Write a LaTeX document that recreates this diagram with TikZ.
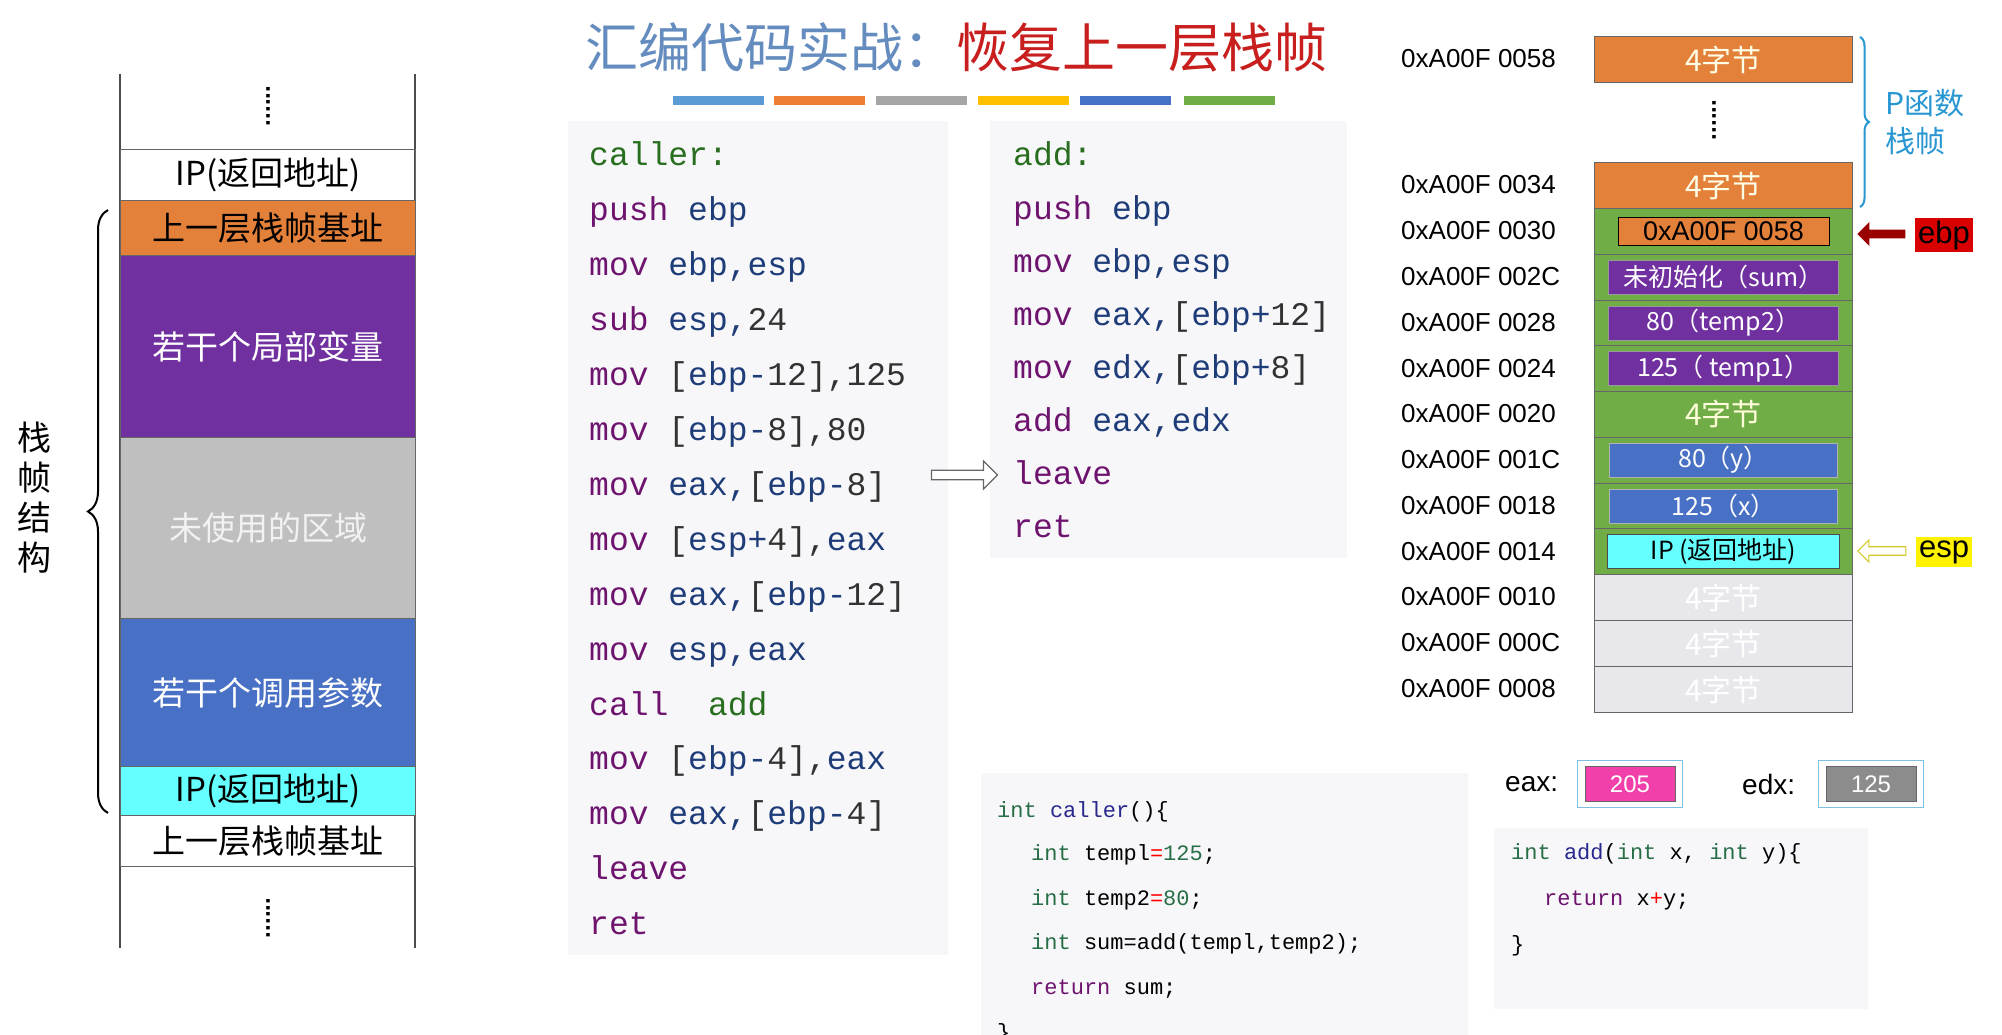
\documentclass[tikz,border=0pt]{standalone}
\usepackage{fontspec}
\setmainfont{Liberation Sans}
\setmonofont{Liberation Mono}
\newfontfamily\cjk{Noto Sans CJK SC}
\usetikzlibrary{arrows.meta,decorations.pathreplacing,shapes.arrows}
\definecolor{cOrange}{RGB}{227,128,58}
\definecolor{cPurple}{RGB}{112,48,160}
\definecolor{cGray}{RGB}{191,191,191}
\definecolor{cBlue}{RGB}{72,112,196}
\definecolor{cCyan}{RGB}{102,255,255}
\definecolor{cGreen}{RGB}{112,173,71}
\definecolor{cLight}{RGB}{232,232,236}
\definecolor{cPanel}{RGB}{247,247,250}
\definecolor{kMn}{RGB}{110,20,110}
\definecolor{kReg}{RGB}{30,60,120}
\definecolor{kLab}{RGB}{40,110,30}
\definecolor{kNum}{RGB}{50,50,50}
\definecolor{kTyp}{RGB}{40,110,70}
\definecolor{kFun}{RGB}{40,40,140}
\definecolor{tBlue}{RGB}{100,140,190}
\definecolor{tRed}{RGB}{200,30,30}
\definecolor{pBlue}{RGB}{40,150,210}
\definecolor{bar1}{RGB}{91,155,213}
\definecolor{bar2}{RGB}{237,125,49}
\definecolor{bar3}{RGB}{165,165,165}
\definecolor{bar4}{RGB}{255,192,0}
\definecolor{bar5}{RGB}{68,114,196}
\definecolor{bar6}{RGB}{112,173,71}
\newcommand{\mn}[1]{\textcolor{kMn}{#1}}
\newcommand{\rg}[1]{\textcolor{kReg}{#1}}
\newcommand{\nm}[1]{\textcolor{kNum}{#1}}
\newcommand{\lb}[1]{\textcolor{kLab}{#1}}
\begin{document}
\begin{tikzpicture}[x=1pt,y=-1pt,
  cell/.style={draw=black!60,line width=1pt,minimum width=258pt,anchor=north west,inner sep=0pt},
  lcell/.style={draw=black!60,line width=1pt,minimum width=295pt,anchor=north west,inner sep=0pt,font=\cjk\fontsize{33}{33}\selectfont},
  addr/.style={anchor=west,font=\fontsize{26}{26}\selectfont,inner sep=0pt},
  asm/.style={anchor=base west,font=\ttfamily\fontsize{33}{33}\selectfont,inner sep=0pt},
  cc/.style={anchor=base west,font=\ttfamily\fontsize{22}{22}\selectfont,inner sep=0pt},
  inbox/.style={minimum height=34pt,inner sep=0pt,text=white,font=\cjk\fontsize{25}{25}\selectfont},
  bar/.style={minimum width=91pt,minimum height=9pt,inner sep=0pt,anchor=north west}]
\useasboundingbox (0,0) rectangle (2002,1035);
\fill[white] (0,0) rectangle (2002,1035);
% ---------- left stack ----------
\draw[line width=1.5pt,black!70] (120,74) -- (120,948);
\draw[line width=1.5pt,black!70] (415,74) -- (415,948);
\node (ldot1) at (268,106) {\rotatebox{90}{\bfseries\fontsize{24}{24}\selectfont ......}};
\node[lcell,minimum height=51pt] (l1) at (120,149) {IP(返回地址)};
\node[lcell,fill=cOrange,minimum height=55pt] (l2) at (120,200) {上一层栈帧基址};
\node[lcell,fill=cPurple,minimum height=182pt,text=white] (l3) at (120,255) {若干个局部变量};
\node[lcell,fill=cGray,minimum height=181pt,text=white!90!gray] (l4) at (120,437) {未使用的区域};
\node[lcell,fill=cBlue,minimum height=148pt,text=white] (l5) at (120,618) {若干个调用参数};
\node[lcell,fill=cCyan,minimum height=49pt] (l6) at (120,766) {IP(返回地址)};
\node[lcell,minimum height=51pt] (l7) at (120,815) {上一层栈帧基址};
\node (ldot2) at (268,918) {\rotatebox{90}{\bfseries\fontsize{24}{24}\selectfont ......}};
\draw[line width=2pt,decorate,decoration={brace,amplitude=20pt}] (108,813) -- (108,210);
\node[align=center,font=\cjk\fontsize{34}{40}\selectfont,inner sep=0pt] (lbl) at (34,498) {栈\\帧\\结\\构};
% ---------- title ----------
\node[anchor=west,inner sep=0pt,font=\cjk\fontsize{53}{53}\selectfont] (title) at (585,47) {\textcolor{tBlue}{汇编代码实战：}\textcolor{tRed}{恢复上一层栈帧}};
\foreach \x [count=\i] in {673,774,876,978,1080,1184}
  \node[bar,fill=bar\i] (bar\i) at (\x,96) {};
% ---------- asm panels ----------
\fill[cPanel] (568,121) rectangle (948,955);
\fill[cPanel] (990,121) rectangle (1347,558);
\foreach \t [count=\i] in {\lb{caller:},\mn{push} \rg{ebp},\mn{mov} \rg{ebp,esp},\mn{sub} \rg{esp,}\nm{24},\mn{mov} \nm{[}\rg{ebp-}\nm{12],125},\mn{mov} \nm{[}\rg{ebp-}\nm{8],80},\mn{mov} \rg{eax,}\nm{[}\rg{ebp-}\nm{8]},\mn{mov} \nm{[}\rg{esp+}\nm{4],}\rg{eax},\mn{mov} \rg{eax,}\nm{[}\rg{ebp-}\nm{12]},\mn{mov} \rg{esp,eax},\mn{call}\ \ \lb{add},\mn{mov} \nm{[}\rg{ebp-}\nm{4],}\rg{eax},\mn{mov} \rg{eax,}\nm{[}\rg{ebp-}\nm{4]},\mn{leave},\mn{ret}}
  \node[asm] (a\i) at (589,{166+54.9*(\i-1)}) {\t};
\foreach \t [count=\i] in {\lb{add:},\mn{push} \rg{ebp},\mn{mov} \rg{ebp,esp},\mn{mov} \rg{eax,}\nm{[}\rg{ebp+}\nm{12]},\mn{mov} \rg{edx,}\nm{[}\rg{ebp+}\nm{8]},\mn{add} \rg{eax,edx},\mn{leave},\mn{ret}}
  \node[asm] (b\i) at (1013,{166+53*(\i-1)}) {\t};
\node[single arrow,draw=black!60,fill=white,line width=1.2pt,minimum height=66pt,minimum width=28pt,single arrow head extend=5pt,inner sep=2pt] (cur) at (962,475) {};
% ---------- C panels ----------
\fill[cPanel] (981,773) rectangle (1468,1035);
\fill[cPanel] (1494,828) rectangle (1868,1009);
\node[cc] (c1) at (997,817) {\textcolor{kTyp}{int} \textcolor{kFun}{caller}()\{};
\node[cc] (c2) at (1031,860) {\textcolor{kTyp}{int} templ\textcolor{red}{=}\textcolor{kTyp}{125};};
\node[cc] (c3) at (1031,905) {\textcolor{kTyp}{int} temp2\textcolor{red}{=}\textcolor{kTyp}{80};};
\node[cc] (c4) at (1031,949) {\textcolor{kTyp}{int} sum=add(templ,temp2);};
\node[cc] (c5) at (1031,994) {\textcolor{kMn}{return} sum;};
\node[cc] (c6) at (997,1039) {\}};
\node[cc] (d1) at (1511,859) {\textcolor{kTyp}{int} \textcolor{kFun}{add}(\textcolor{kTyp}{int} x, \textcolor{kTyp}{int} y)\{};
\node[cc] (d2) at (1544,905) {\textcolor{kMn}{return} x\textcolor{red}{+}y;};
\node[cc] (d3) at (1511,951) {\}};
% registers
\node[anchor=west,inner sep=0pt,font=\fontsize{28}{28}\selectfont] (eaxl) at (1505,784) {eax:};
\node[draw=pBlue!60,line width=1.2pt,minimum width=105pt,minimum height=47pt,inner sep=0pt] (eaxo) at (1630,784) {};
\node[draw=black!60,fill=magenta!75,line width=1pt,minimum width=90pt,minimum height=35pt,inner sep=0pt,text=white,font=\fontsize{24}{24}\selectfont] (eaxv) at (eaxo) {205};
\node[anchor=west,inner sep=0pt,font=\fontsize{28}{28}\selectfont] (edxl) at (1742,784) {edx:};
\node[draw=pBlue!60,line width=1.2pt,minimum width=105pt,minimum height=47pt,inner sep=0pt] (edxo) at (1871,784) {};
\node[draw=black!60,fill=black!45,line width=1pt,minimum width=90pt,minimum height=35pt,inner sep=0pt,text=white,font=\fontsize{24}{24}\selectfont] (edxv) at (edxo) {125};
% ---------- right stack ----------
\node[cell,fill=cOrange,minimum height=46pt,text=white!90!yellow,font=\cjk\fontsize{30}{30}\selectfont] (s0) at (1594,36) {4字节};
\node[addr] (ad0) at (1401,59) {0xA00F 0058};
\node (sdot) at (1714,120) {\rotatebox{90}{\bfseries\fontsize{24}{24}\selectfont ......}};
\node[cell,fill=cOrange,minimum height=46pt,text=white!90!yellow,font=\cjk\fontsize{30}{30}\selectfont] (s1) at (1594,162) {4字节};
\node[addr] (ad1) at (1401,185) {0xA00F 0034};
\foreach \a [count=\i] in {0030,002C,0028,0024,0020,001C,0018,0014}
  {\node[cell,fill=cGreen,minimum height=45.75pt] (g\i) at (1594,{208+45.75*(\i-1)}) {};
   \node[addr] (ag\i) at (1401,{231+45.75*(\i-1)}) {0xA00F \a};}
\foreach \a [count=\i] in {0010,000C,0008}
  {\node[cell,fill=cLight,minimum height=46pt,text=white,font=\cjk\fontsize{30}{30}\selectfont] (w\i) at (1594,{574+46*(\i-1)}) {4字节};
   \node[addr] (aw\i) at (1401,{597+46*(\i-1)}) {0xA00F \a};}
\node[inbox,draw=black,fill=cOrange,minimum width=211pt,minimum height=28pt,text=black,font=\fontsize{27}{27}\selectfont] (v1) at (g1) {0xA00F 0058};
\node[inbox,draw=black!40,fill=cPurple,minimum width=230pt] (v2) at (g2) {未初始化（sum）};
\node[inbox,draw=black!40,fill=cPurple,minimum width=230pt] (v3) at (g3) {80（temp2）};
\node[inbox,draw=black!40,fill=cPurple,minimum width=230pt] (v4) at (g4) {125（ temp1）};
\node[text=white!85!yellow,font=\cjk\fontsize{30}{30}\selectfont] (v5) at (g5) {4字节};
\node[inbox,draw=black!30,fill=cBlue,minimum width=228pt] (v6) at (g6) {80（y）};
\node[inbox,draw=black!30,fill=cBlue,minimum width=228pt] (v7) at (g7) {125（x）};
\node[inbox,draw=black!70,fill=cCyan,minimum width=232pt,text=black] (v8) at (g8) {IP (返回地址)};
\draw[pBlue,line width=2pt,decorate,decoration={brace,amplitude=9pt}] (1860,37) -- (1860,207);
\node[align=left,text=pBlue,font=\cjk\fontsize{30}{38}\selectfont,inner sep=0pt] (plbl) at (1925,122) {P函数\\栈帧};
\node[fill=red!85!black,inner sep=3pt,font=\fontsize{31}{31}\selectfont] (ebp) at (1944,235) {ebp};
\node[fill=yellow,inner sep=3pt,font=\fontsize{31}{31}\selectfont] (esp) at (1944,552) {esp};
\node[single arrow,fill=red!60!black,shape border rotate=180,minimum height=48pt,minimum width=24pt,single arrow head extend=4pt,inner sep=2pt,anchor=tip] (ebpa) at (1857,234) {};
\node[single arrow,draw=yellow!80!black,line width=1.2pt,fill=white,shape border rotate=180,minimum height=48pt,minimum width=22pt,single arrow head extend=4pt,inner sep=2pt,anchor=tip] (espa) at (1857,551) {};
\end{tikzpicture}
\end{document}
